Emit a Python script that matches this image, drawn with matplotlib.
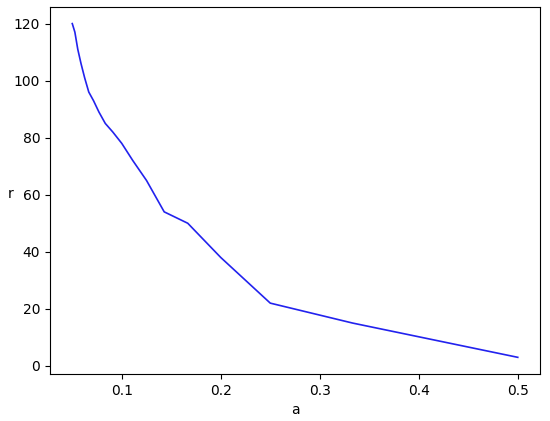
import matplotlib
matplotlib.use("Agg")
import matplotlib.pyplot as plt

n_values = [20, 19, 18, 17, 16, 15, 14, 13, 12, 11, 10, 9, 8, 7, 6, 5, 4, 3, 2]
a_values = [1.0 / n for n in n_values]
r_values = [120, 117, 111, 106, 101, 96, 93, 89, 85, 82, 78, 72, 65, 54, 50, 38, 22, 15, 3]

fig = plt.figure(figsize=(5.5, 4.21), dpi=100)
ax = fig.add_axes([0.0909, 0.1116, 0.891, 0.872])
ax.plot(a_values, r_values, color="#2222ee", linewidth=1.2)
ax.set_xlabel("a")
ax.set_ylabel("r", rotation=0)
ax.yaxis.set_label_coords(-0.08, 0.47)
ax.set_xticks([0.1, 0.2, 0.3, 0.4, 0.5])
ax.set_yticks([0, 20, 40, 60, 80, 100, 120])
fig.savefig("out.png", dpi=100)
